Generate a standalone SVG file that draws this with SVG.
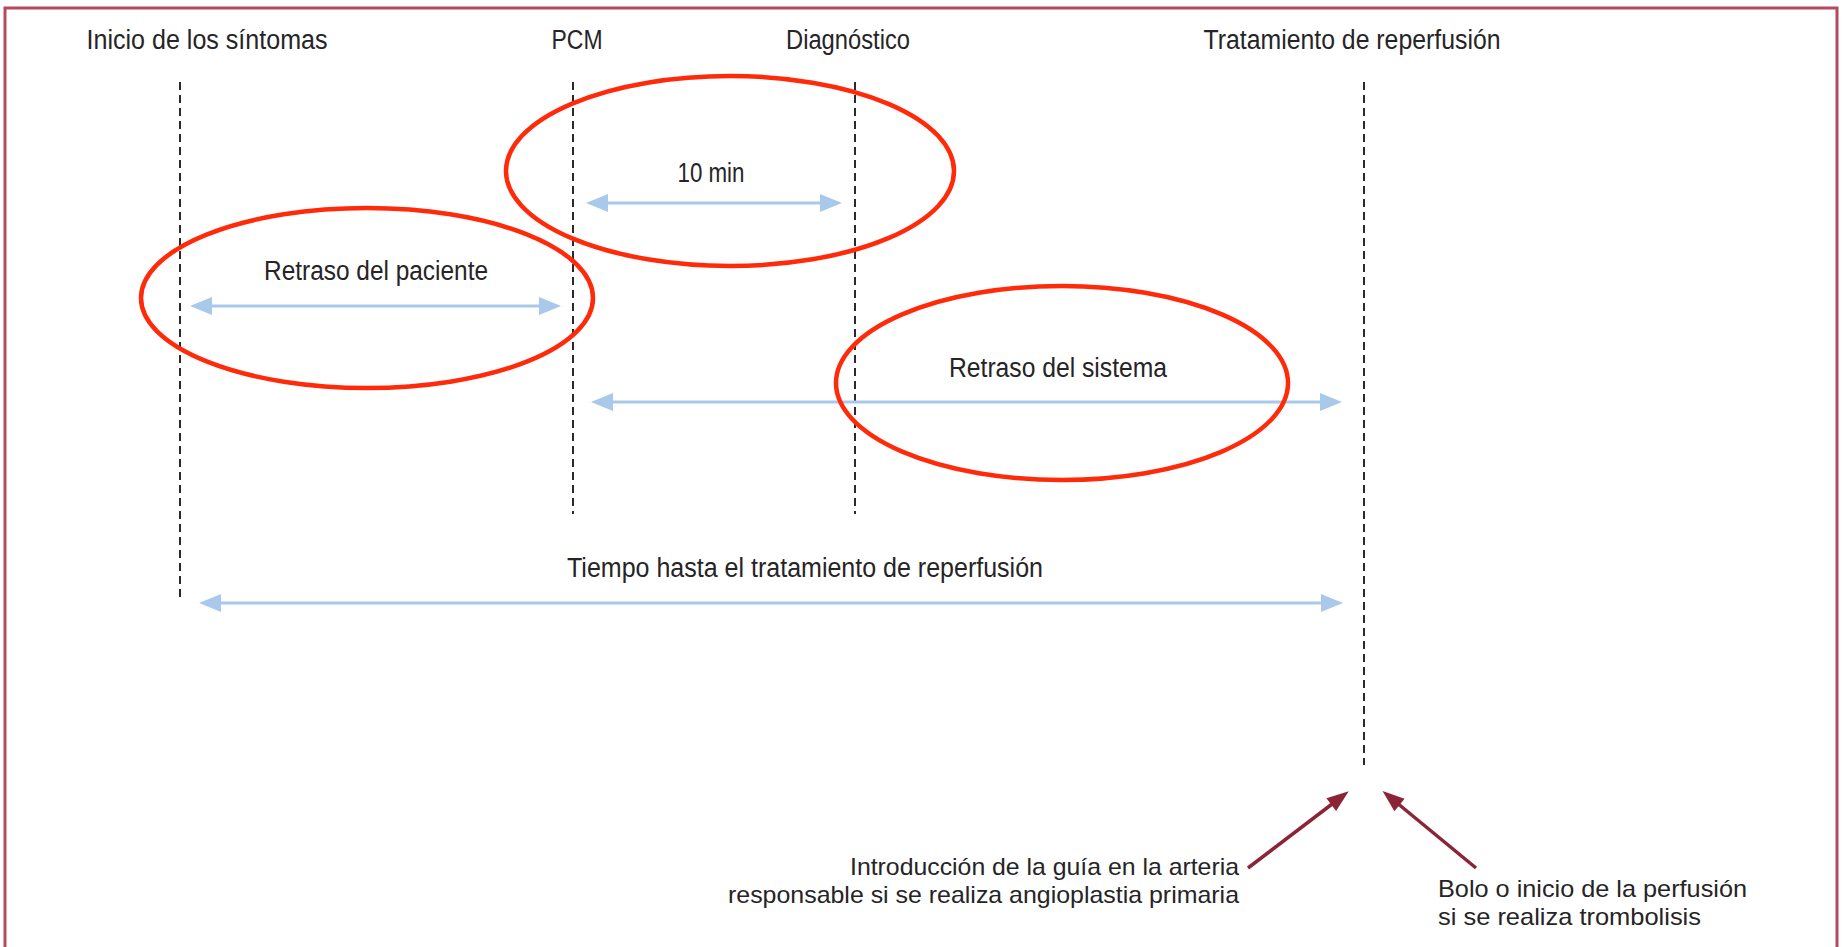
<svg xmlns="http://www.w3.org/2000/svg" width="1845" height="947" viewBox="0 0 1845 947">
<style>
  .lbl { font-family: "Liberation Sans", Arial, sans-serif; font-size: 27px; fill: #262426; }
  .sm { font-size: 24px; }
  .mid { text-anchor: middle; }
  .end { text-anchor: end; }
  .dash { stroke: #2a2a2a; stroke-width: 2; stroke-dasharray: 8 5; fill: none; }
  .blue { stroke: #a9c9ea; stroke-width: 3; fill: none; marker-start: url(#bh); marker-end: url(#bh); }
  .maroon { stroke: #8c2438; stroke-width: 3.5; fill: none; marker-end: url(#mh); }
  .ring { stroke: #ff2a0a; stroke-width: 4.5; fill: none; }
</style>
<defs>
  <marker id="bh" markerUnits="userSpaceOnUse" markerWidth="24" markerHeight="20" viewBox="0 0 24 20" refX="12" refY="10" orient="auto-start-reverse">
    <path d="M1,1 L23,10 L1,19 Z" fill="#a9c9ea"/>
  </marker>
  <marker id="mh" markerUnits="userSpaceOnUse" markerWidth="24" markerHeight="18" viewBox="0 0 24 18" refX="12" refY="9" orient="auto">
    <path d="M1,1 L23,9 L1,17 Z" fill="#8c2438"/>
  </marker>
</defs>
<rect width="1845" height="947" fill="#ffffff"/>
<rect x="5" y="8" width="1832" height="960" fill="none" stroke="#b5495f" stroke-width="3"/>

<g id="connectors">
  <line class="dash" x1="180" y1="82" x2="180" y2="600"/>
  <line class="dash" x1="573" y1="82" x2="573" y2="514"/>
  <line class="dash" x1="855" y1="82" x2="855" y2="514"/>
  <line class="dash" x1="1364" y1="82" x2="1364" y2="765"/>
  <line class="blue" x1="597" y1="203" x2="831" y2="203"/>
  <line class="blue" x1="201" y1="306" x2="550" y2="306"/>
  <line class="blue" x1="602" y1="402" x2="1331" y2="402"/>
  <line class="blue" x1="210" y1="603" x2="1332" y2="603"/>
  <line class="maroon" x1="1248" y1="868" x2="1340" y2="798"/>
  <line class="maroon" x1="1476" y1="868" x2="1391" y2="798"/>
</g>

<g id="highlights">
  <ellipse class="ring" cx="730" cy="171" rx="224" ry="95"/>
  <ellipse class="ring" cx="367" cy="298" rx="226" ry="90"/>
  <ellipse class="ring" cx="1062" cy="383" rx="226" ry="97"/>
</g>

<g id="inicio"><text class="lbl mid" x="207" y="49" textLength="241" lengthAdjust="spacingAndGlyphs">Inicio de los síntomas</text></g>
<g id="pcm"><text class="lbl mid" x="577" y="49" textLength="51" lengthAdjust="spacingAndGlyphs">PCM</text></g>
<g id="diagnostico"><text class="lbl mid" x="848" y="49" textLength="124" lengthAdjust="spacingAndGlyphs">Diagnóstico</text></g>
<g id="tratamiento"><text class="lbl mid" x="1352" y="49" textLength="297" lengthAdjust="spacingAndGlyphs">Tratamiento de reperfusión</text></g>

<g id="diez-min"><text class="lbl mid" x="711" y="182" textLength="67" lengthAdjust="spacingAndGlyphs">10 min</text></g>
<g id="retraso-paciente"><text class="lbl mid" x="376" y="280" textLength="224" lengthAdjust="spacingAndGlyphs">Retraso del paciente</text></g>
<g id="retraso-sistema"><text class="lbl mid" x="1058" y="377" textLength="218" lengthAdjust="spacingAndGlyphs">Retraso del sistema</text></g>
<g id="tiempo"><text class="lbl mid" x="805" y="577" textLength="476" lengthAdjust="spacingAndGlyphs">Tiempo hasta el tratamiento de reperfusión</text></g>

<g id="angioplastia">
  <text class="lbl sm end" x="1239" y="875" textLength="389" lengthAdjust="spacingAndGlyphs">Introducción de la guía en la arteria</text>
  <text class="lbl sm end" x="1239" y="903" textLength="511" lengthAdjust="spacingAndGlyphs">responsable si se realiza angioplastia primaria</text>
</g>
<g id="trombolisis">
  <text class="lbl sm" x="1438" y="897" textLength="309" lengthAdjust="spacingAndGlyphs">Bolo o inicio de la perfusión</text>
  <text class="lbl sm" x="1438" y="925" textLength="263" lengthAdjust="spacingAndGlyphs">si se realiza trombolisis</text>
</g>
</svg>
